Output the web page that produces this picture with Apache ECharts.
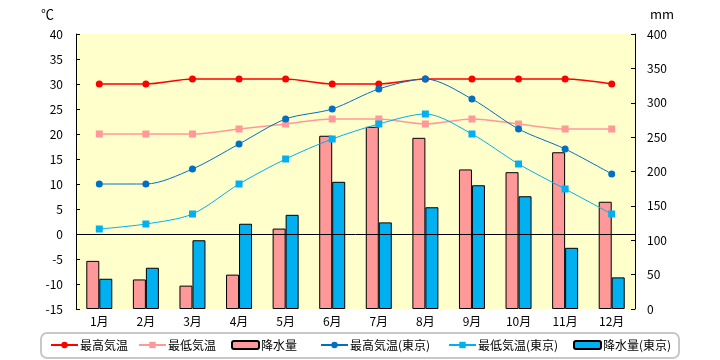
<!DOCTYPE html>
<html><head><meta charset="utf-8">
<script src="https://cdn.jsdelivr.net/npm/echarts@6/dist/echarts.min.js"></script>
<style>html,body{margin:0;padding:0;background:#fff}#c{width:720px;height:360px}</style>
</head><body><div id="c"></div>
<script>
const months = ['1月','2月','3月','4月','5月','6月','7月','8月','9月','10月','11月','12月'];
const maxTemp = [30,30,31,31,31,30,30,31,31,31,31,30];
const minTemp = [20,20,20,21,22,23,23,22,23,22,21,21];
const precip = [70,43,34,50,117,252,265,249,203,199,228,156];
const maxTempTokyo = [10,10,13,18,23,25,29,31,27,21,17,12];
const minTempTokyo = [1,2,4,10,15,19,22,24,20,14,9,4];
const precipTokyo = [44,60,100,124,137,185,126,148,180,164,89,46];
const seriesNames = ['最高気温','最低気温','降水量','最高気温(東京)','最低気温(東京)','降水量(東京)'];
const tempTicks = {min:-15, max:40, interval:5};
const mmTicks = {min:0, max:400, interval:50};

const FONT = '"Noto Sans CJK JP", "DejaVu Sans", sans-serif';
const chart = echarts.init(document.getElementById('c'), null, {renderer:'canvas'});
const lineSeries = (name, data, color, symbol, size, width, extra) => Object.assign({
  name, type:'line', data, yAxisIndex:0, z:5,
  smooth:0.3, symbol, symbolSize:size,
  itemStyle:{color}, lineStyle:{color, width}
}, extra||{});
const legendLefts = [50, 138, 231, 320, 448, 573];
const legends = seriesNames.map((n, i) => ({
  top:339, left:legendLefts[i], itemWidth:27, itemHeight:8, padding:0,
  textStyle:{fontSize:12, color:'#000', fontFamily:FONT, padding:[0,0,0,-3]},
  data:[n]
}));
chart.setOption({
  animation:false,
  textStyle:{fontFamily:FONT},
  grid:{left:76, right:85, top:34, bottom:51, show:true, backgroundColor:'#FFFFCC', borderWidth:0},
  graphic:[
    {type:'rect', shape:{x:41, y:333, width:638, height:25, r:6}, style:{fill:'none', stroke:'#C8C8C8', lineWidth:2}},
    {type:'text', left:41, top:8, style:{text:'℃', font:'13px '+FONT, fill:'#000'}},
    {type:'text', left:650, top:8, style:{text:'mm', font:'13px '+FONT, fill:'#000'}}
  ],
  legend:legends,
  xAxis:{type:'category', data:months, boundaryGap:true,
    axisLine:{show:false}, axisTick:{show:false},
    axisLabel:{color:'#000', fontSize:12, margin:6, fontFamily:FONT}},
  yAxis:[
    {type:'value', min:tempTicks.min, max:tempTicks.max, interval:tempTicks.interval,
      axisLine:{show:true, lineStyle:{color:'#000', width:1}},
      axisTick:{show:true, inside:true, length:4, lineStyle:{color:'#000'}},
      splitLine:{show:false},
      axisLabel:{color:'#000', fontSize:12, margin:13, fontFamily:FONT}},
    {type:'value', min:mmTicks.min, max:mmTicks.max, interval:mmTicks.interval, position:'right',
      axisLine:{show:true, lineStyle:{color:'#000', width:1}},
      axisTick:{show:true, inside:true, length:4, lineStyle:{color:'#000'}},
      splitLine:{show:false},
      axisLabel:{color:'#000', fontSize:12, margin:12, fontFamily:FONT}}
  ],
  series:[
    lineSeries(seriesNames[0], maxTemp, '#FF0000', 'circle', 7, 1.5, {
      markLine:{silent:true, symbol:'none', label:{show:false},
        lineStyle:{color:'#000', width:1, type:'solid'}, data:[{yAxis:0}]}
    }),
    lineSeries(seriesNames[1], minTemp, '#FF9999', 'rect', 7, 1.5),
    {name:seriesNames[2], type:'bar', data:precip, yAxisIndex:1, barWidth:13, barGap:'0%', z:2,
      itemStyle:{color:'#FF9999', borderColor:'#000', borderWidth:1}},
    lineSeries(seriesNames[3], maxTempTokyo, '#0070C0', 'circle', 7, 1),
    lineSeries(seriesNames[4], minTempTokyo, '#00B0F0', 'rect', 7, 1),
    {name:seriesNames[5], type:'bar', data:precipTokyo, yAxisIndex:1, barWidth:13, barGap:'0%', z:2,
      itemStyle:{color:'#00B0F0', borderColor:'#000', borderWidth:1}}
  ]
});
</script></body></html>
